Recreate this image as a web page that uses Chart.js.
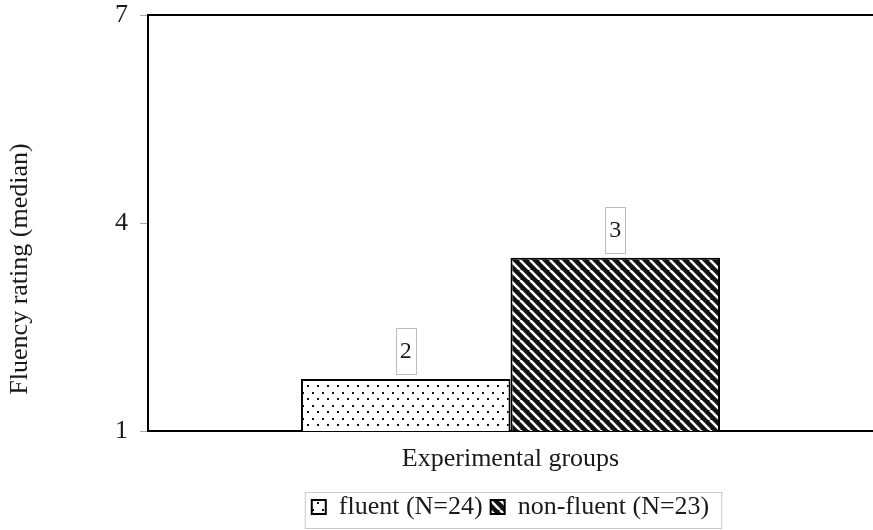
<!DOCTYPE html>
<html>
<head>
<meta charset="utf-8">
<script src="https://cdn.jsdelivr.net/npm/chart.js@4/dist/chart.umd.min.js"></script>
<style>
  html, body { margin: 0; padding: 0; background: #fff; }
  #wrap { width: 873px; height: 530px; }
</style>
</head>
<body>
<div id="wrap"><canvas id="fluencyChart" width="873" height="530"></canvas></div>
<script>
// data
const categories = ['Experimental groups'];
const seriesNames = ['fluent (N=24)', 'non-fluent (N=23)'];
const fluentValues = [1.75];
const nonFluentValues = [3.5];
const medianLabels = ['2', '3'];
const yTicks = [1, 4, 7];

const FONT = '"Liberation Serif", "DejaVu Serif", serif';
const INK = '#1a1a1a';

function dotPattern() {
    const c = document.createElement('canvas');
    c.width = 10; c.height = 13;
    const g = c.getContext('2d');
    g.fillStyle = '#fff';
    g.fillRect(0, 0, 10, 13);
    g.fillStyle = '#111';
    g.fillRect(2, 2, 2, 2);
    g.fillRect(7, 8, 2, 2);
    return g.createPattern(c, 'repeat');
}

function stripePattern() {
    const c = document.createElement('canvas');
    c.width = 10; c.height = 10;
    const g = c.getContext('2d');
    g.fillStyle = '#111';
    g.fillRect(0, 0, 10, 10);
    g.strokeStyle = '#fff';
    g.lineWidth = 2.6;
    [-10, 0, 10].forEach(function (o) {
        g.beginPath();
        g.moveTo(o, 0);
        g.lineTo(o + 10, 10);
        g.stroke();
    });
    return g.createPattern(c, 'repeat');
}

// top frame line, y title, median boxes, legend frame
const extras = {
    id: 'extras',
    afterDraw(chart) {
        const ctx = chart.ctx;
        const a = chart.chartArea;
        ctx.save();
        ctx.strokeStyle = '#000';
        ctx.lineWidth = 2;
        ctx.beginPath();
        ctx.moveTo(a.left, a.top);
        ctx.lineTo(a.right, a.top);
        ctx.stroke();

        ctx.fillStyle = INK;
        ctx.font = '26px ' + FONT;
        ctx.textAlign = 'center';
        ctx.textBaseline = 'middle';
        ctx.translate(20, 269);
        ctx.rotate(-Math.PI / 2);
        ctx.fillText('Fluency rating (median)', 0, 0);
        ctx.restore();

        ctx.save();
        ctx.font = '24px ' + FONT;
        ctx.textAlign = 'center';
        ctx.textBaseline = 'middle';
        chart.data.datasets.forEach(function (ds, i) {
            const bar = chart.getDatasetMeta(i).data[0];
            const w = 20, h = 46;
            const top = bar.y - 5 - h;
            ctx.strokeStyle = '#bdbdbd';
            ctx.lineWidth = 1;
            ctx.strokeRect(Math.round(bar.x - w / 2) + 0.5, Math.round(top) + 0.5, w, h);
            ctx.fillStyle = INK;
            ctx.fillText(medianLabels[i], bar.x, top + h / 2 + 1);
        });
        ctx.restore();

        const boxes = chart.legend.legendHitBoxes;
        if (boxes && boxes.length) {
            const l = Math.min.apply(null, boxes.map(b => b.left)) - 7;
            const r = Math.max.apply(null, boxes.map(b => b.left + b.width)) + 12;
            ctx.save();
            ctx.strokeStyle = '#c8c8c8';
            ctx.lineWidth = 1;
            ctx.strokeRect(l + 0.5, 492.5, r - l, 36);
            ctx.restore();
        }
    }
};

const ctx = document.getElementById('fluencyChart').getContext('2d');
new Chart(ctx, {
    type: 'bar',
    data: {
        labels: categories,
        datasets: [{
            label: seriesNames[0],
            data: fluentValues,
            backgroundColor: dotPattern(),
            borderColor: '#000',
            borderWidth: 2,
        }, {
            label: seriesNames[1],
            data: nonFluentValues,
            backgroundColor: stripePattern(),
            borderColor: '#000',
            borderWidth: 2,
        }]
    },
    options: {
        responsive: false,
        animation: false,
        layout: { padding: { top: 15, left: 0, right: 0, bottom: 0 } },
        datasets: {
            bar: { barPercentage: 1, categoryPercentage: 0.578 }
        },
        scales: {
            x: {
                grid: { display: false },
                border: { color: '#000', width: 2 },
                ticks: { display: false },
                title: {
                    display: true,
                    text: categories[0],
                    color: INK,
                    font: { family: FONT, size: 26 },
                    padding: { top: 0, bottom: 11 }
                },
                afterFit: function (s) { s.height = 55; }
            },
            y: {
                min: yTicks[0],
                max: yTicks[yTicks.length - 1],
                afterBuildTicks: function (s) { s.ticks = yTicks.map(v => ({ value: v })); },
                grid: { drawOnChartArea: false, tickLength: 8, tickColor: '#aaa', tickWidth: 1 },
                border: { color: '#000', width: 2 },
                ticks: {
                    color: INK,
                    padding: 12,
                    font: { family: FONT, size: 26, lineHeight: 1 }
                },
                afterFit: function (s) {
                    s.width = 148;
                    s.paddingTop = 0;
                    s.paddingBottom = 0;
                }
            }
        },
        plugins: {
            legend: {
                position: 'bottom',
                fullSize: false,
                labels: {
                    boxWidth: 14,
                    boxHeight: 14,
                    padding: 8,
                    color: INK,
                    font: { family: FONT, size: 26 }
                }
            },
            tooltip: { enabled: false }
        }
    },
    plugins: [extras]
});
</script>
</body>
</html>
